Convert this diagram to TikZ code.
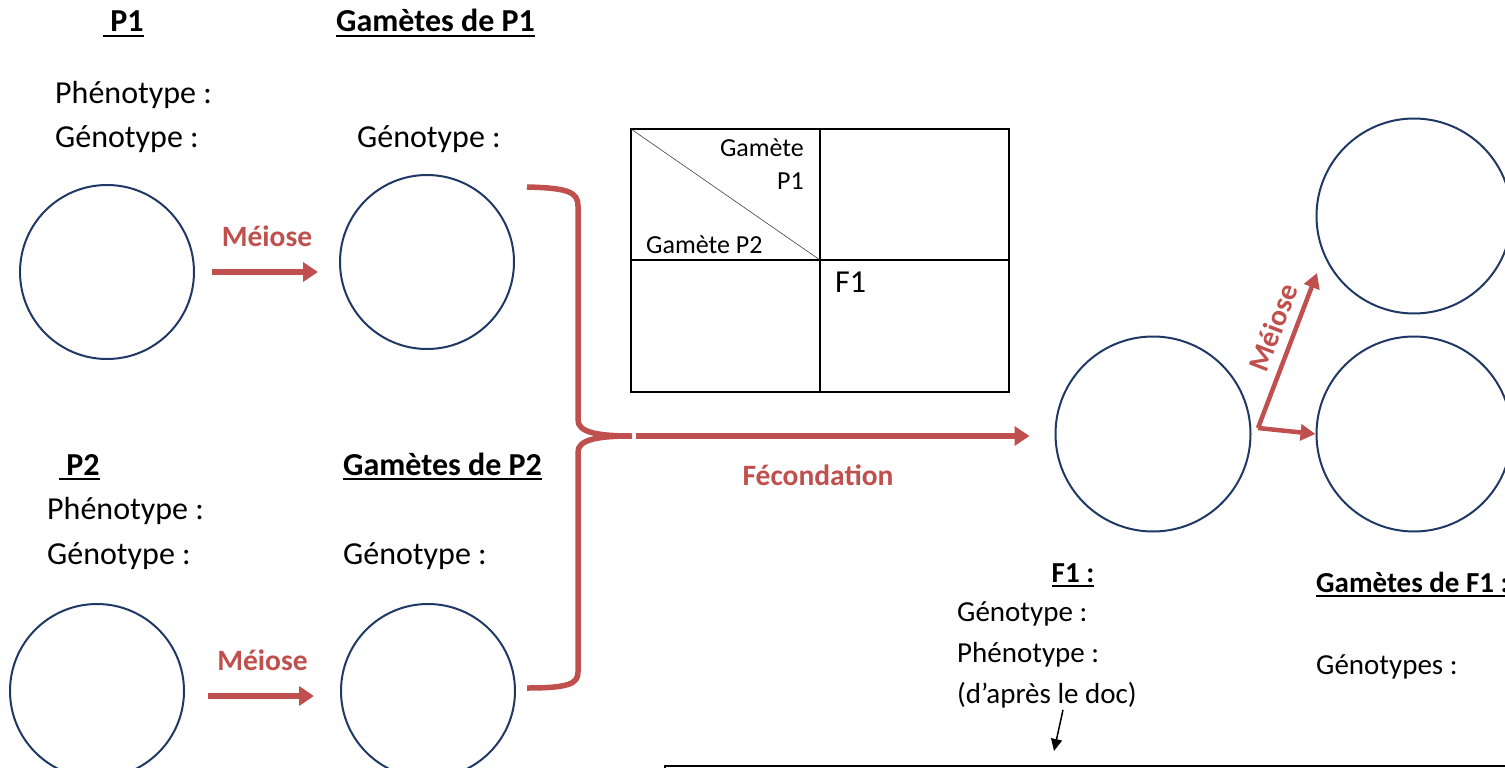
\documentclass[tikz,border=0pt]{standalone}
\usepackage{fontspec}
\setmainfont{Carlito}
\usetikzlibrary{arrows.meta}
\definecolor{meiored}{HTML}{C0504D}
\definecolor{cellblue}{HTML}{1F3864}
% underline for the headings
\newcommand\hdul[1]{\setbox0\hbox{#1}\rlap{\rule[-5pt]{\wd0}{2.4pt}}\box0}
\tikzset{
  cell/.style={circle,draw=cellblue,line width=2pt,minimum size=174pt,inner sep=0pt},
  bigcell/.style={cell,minimum size=195pt},
  txt/.style={anchor=base west,inner sep=0pt,font=\fontsize{32}{38}\selectfont},
  ftxt/.style={txt,font=\fontsize{29}{35}\selectfont},
  smalltxt/.style={inner sep=0pt,font=\fontsize{26}{31}\selectfont},
  head/.style={anchor=base west,inner sep=0pt,font=\fontsize{32}{38}\selectfont\bfseries},
  fhead/.style={head,font=\fontsize{29}{35}\selectfont\bfseries},
  redlbl/.style={text=meiored,inner sep=0pt,font=\fontsize{29.5}{35}\selectfont\bfseries},
  redarrow/.style={draw=meiored,line width=6pt,-{Triangle[length=15pt,width=19pt]}},
  thinred/.style={draw=meiored,line width=4.5pt,-{Triangle[length=15pt,width=16pt]}}
}
\begin{document}
\begin{tikzpicture}[x=1pt,y=1pt]
\useasboundingbox (0,0) rectangle (1505,-768);
% parent 1
\node[head] (p1h) at (103,-32) {\hdul{~P1}};
\node[head] (g1h) at (336,-32) {\hdul{Gamètes de P1}};
\node[txt] (p1phen) at (55,-103) {Phénotype :};
\node[txt] (p1gen) at (55,-147) {Génotype :};
\node[txt] (g1gen) at (357,-147) {Génotype :};
\node[cell] (p1) at (107,-272) {};
\node[cell] (g1) at (427,-262) {};
\draw[redarrow,shorten <=17pt,shorten >=21pt] (p1.east) -- (p1.east -| g1.west)
  node[midway,above=22pt,redlbl] (m1) {Méiose};
% parent 2
\node[head] (p2h) at (59,-475) {\hdul{~P2}};
\node[head] (g2h) at (343,-475) {\hdul{Gamètes de P2}};
\node[txt] (p2phen) at (47,-519) {Phénotype :};
\node[txt] (p2gen) at (47,-564) {Génotype :};
\node[txt] (g2gen) at (343,-564) {Génotype :};
\node[cell] (p2) at (97,-691) {};
\node[cell] (g2) at (428,-691) {};
\draw[redarrow,shorten <=23pt,shorten >=26pt] ([yshift=-5pt]p2.east) -- ([yshift=-5pt]g2.west)
  node[midway,above=22pt,redlbl] (m2) {Méiose};
% accolade
\coordinate (btip) at (632,-436);
\draw[meiored,line width=5.5pt]
  (527,-187) .. controls (568,-188) and (578,-192) .. (578,-206) -- (578,-420)
  .. controls (578,-432) and (596,-436) .. (btip)
  .. controls (596,-436) and (578,-440) .. (578,-452) -- (578,-672)
  .. controls (578,-684) and (568,-688) .. (527,-688);
% tableau
\draw[line width=2pt] (631,-129) rectangle (1009,-392);
\draw[line width=2pt] (820,-129) -- (820,-392);
\draw[line width=2pt] (631,-260) -- (1009,-260);
\draw[line width=0.6pt,black!75] (631,-129) -- (820,-260);
\node[smalltxt,anchor=base east] (tg1) at (804,-156) {Gamète};
\node[smalltxt,anchor=base east] (tp1) at (804,-189) {P1};
\node[smalltxt,anchor=base west] (tg2) at (646,-253) {Gamète P2};
\node[txt] (tf1) at (835,-292) {F1};
% fecondation
\node[bigcell] (f1) at (1153,-434) {};
\draw[redarrow,shorten <=4pt,shorten >=25pt] (btip) -- (btip -| f1.west);
\node[redlbl,anchor=base] (fec) at (818,-485) {Fécondation};
% F1
\node[bigcell] (gf1) at (1414,-216) {};
\node[bigcell] (gf2) at (1414,-434) {};
\coordinate (mbase) at (1258,-428);
\coordinate (mtop) at (1317,-273);
\draw[thinred] (mbase) -- (mtop)
  node[pos=0.6,sloped,above=9pt,redlbl] (m3) {Méiose};
\draw[thinred] (mbase) -- (gf2.west);
\node[fhead,anchor=base] (f1h) at (1073,-582) {\hdul{F1 :}};
\node[ftxt] (f1gen) at (957,-621) {Génotype :};
\node[ftxt] (f1phen) at (957,-662) {Phénotype :};
\node[ftxt] (doc) at (957,-703) {(d’après le doc)};
\node[fhead] (gfh) at (1316,-592) {\hdul{Gamètes de F1 :}};
\node[ftxt] (gfgen) at (1316,-674) {Génotypes :};
% cadre du bas
\coordinate (boxin) at (1054,-751);
\draw[line width=1.5pt,-{Triangle[length=12pt,width=11pt]}] ([xshift=16pt,yshift=-2pt]doc.south) -- (boxin);
\draw[line width=2.5pt] (665,-766) rectangle (1530,-830);
\end{tikzpicture}
\end{document}
